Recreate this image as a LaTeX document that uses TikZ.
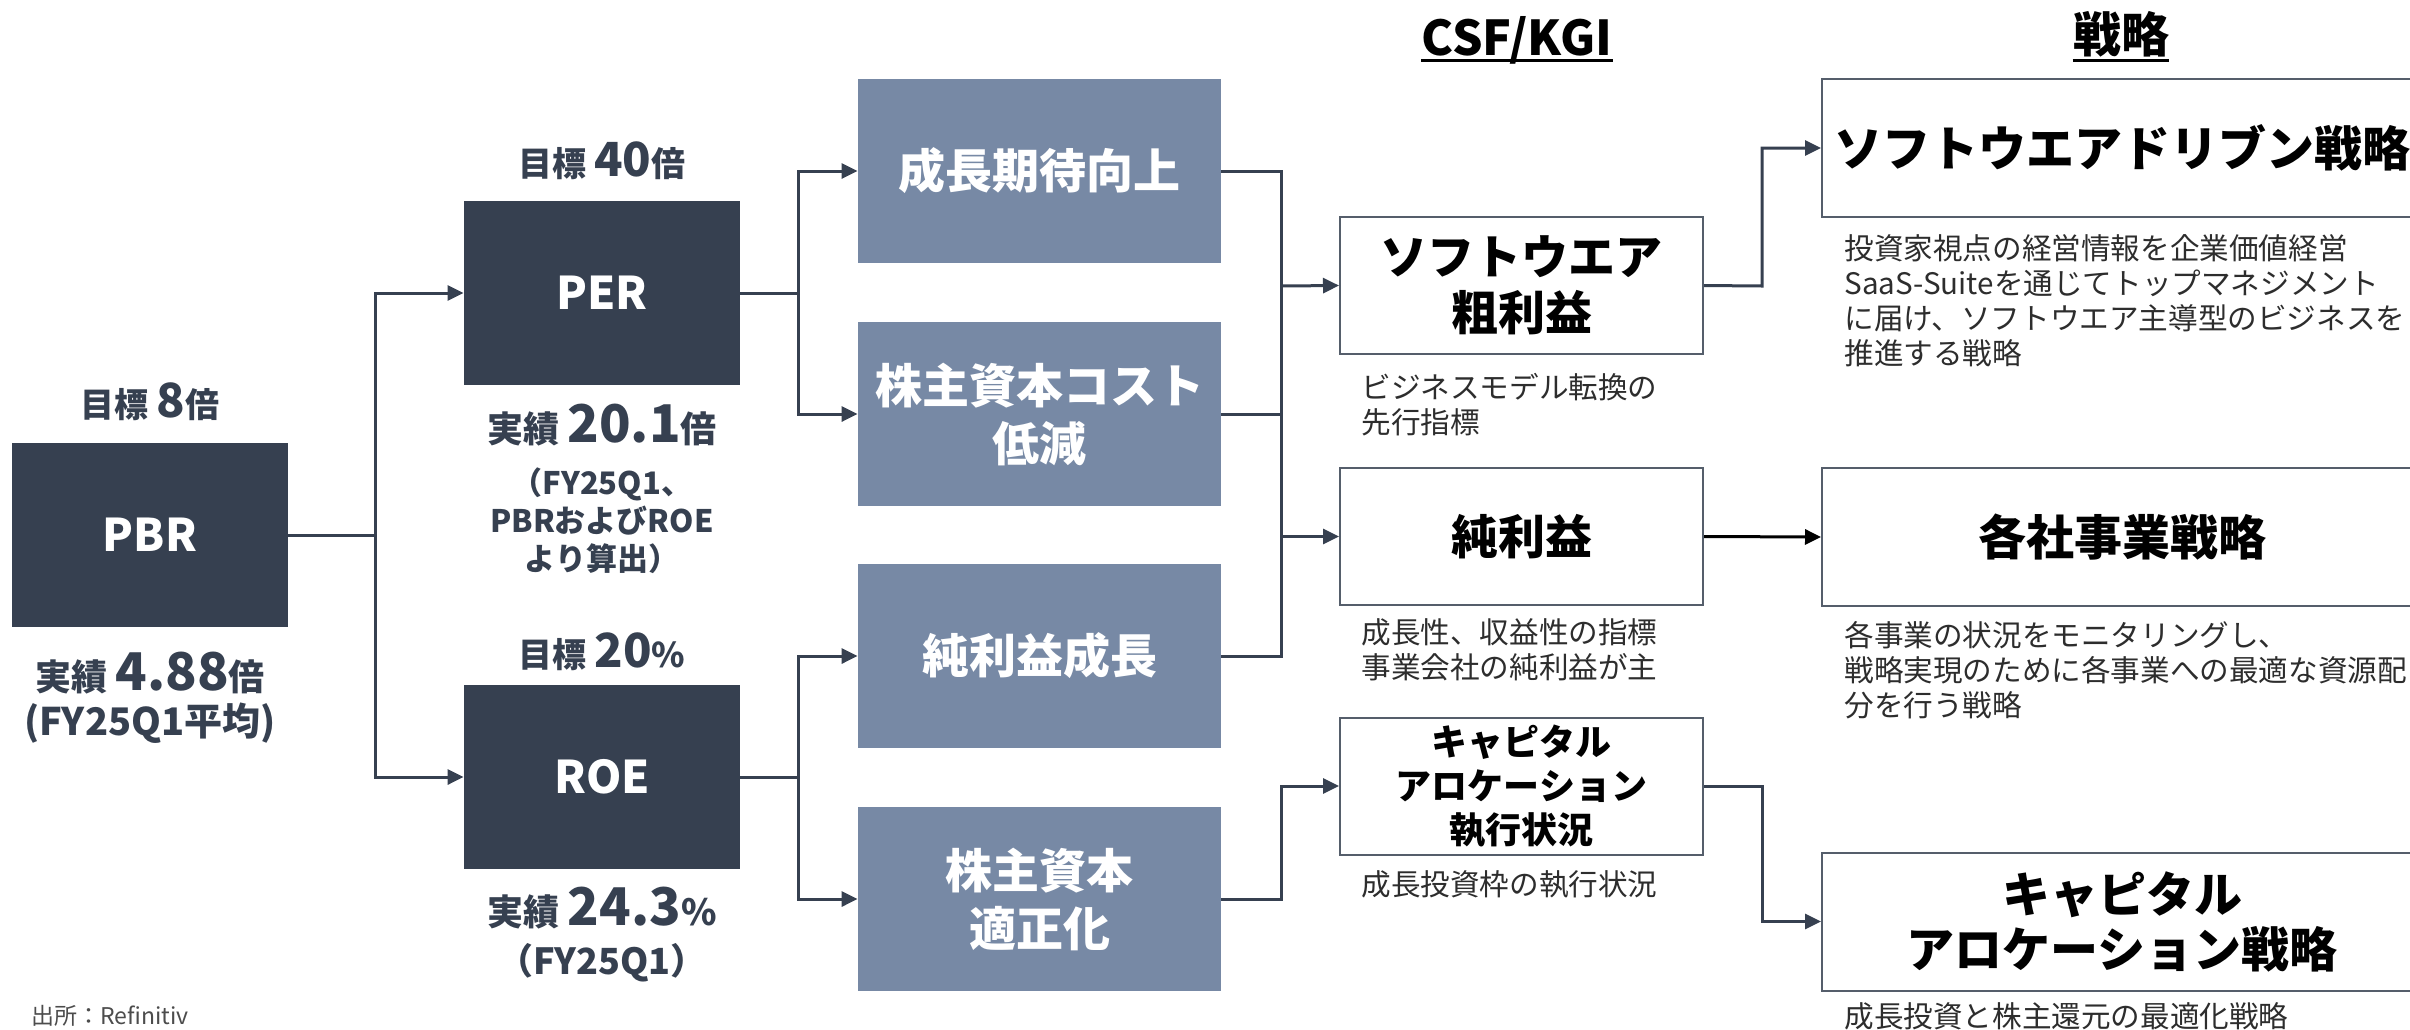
\documentclass[tikz,border=0pt]{standalone}
\usepackage{fontspec}
\setmainfont{Noto Sans CJK JP}
\usetikzlibrary{arrows.meta,calc}
\definecolor{darkc}{RGB}{54,64,80}
\definecolor{grayc}{RGB}{119,137,165}
\definecolor{bordc}{RGB}{85,94,107}
\definecolor{capc}{RGB}{45,45,45}
\newcommand\fsz[2]{\fontsize{#1pt}{#2pt}\selectfont}
\tikzset{
  darkbox/.style={fill=darkc, text=white, minimum width=138pt, minimum height=92pt, inner sep=0pt, font=\fsz{22.5}{27}\bfseries},
  graybox/.style={fill=grayc, text=white, minimum width=181.5pt, minimum height=92pt, inner sep=0pt, align=center, font=\fsz{23.5}{29}\bfseries},
  kgibox/.style={draw=bordc, line width=1pt, fill=white, minimum width=181.5pt, minimum height=68.5pt, inner sep=0pt, align=center, text=black},
  stratbox/.style={draw=bordc, line width=1pt, fill=white, minimum width=300pt, minimum height=69pt, inner sep=0pt, align=center, text=black, font=\fsz{24}{27.5}\bfseries},
  lbl/.style={inner sep=0pt, text=darkc, align=center, font=\bfseries},
  capt/.style={inner sep=0pt, anchor=west, align=left, text=capc, font=\fsz{14.8}{17.5}},
  conn/.style={draw=darkc, line width=1.5pt},
  arr/.style={conn, -{Triangle[length=8pt,width=7.5pt]}},
  hdr/.style={inner sep=0pt, anchor=base, text=black, font=\bfseries}
}
\begin{document}
\begin{tikzpicture}[x=0.5pt,y=-0.5pt]
\useasboundingbox (0,0) rectangle (2410,1029);
\clip (0,0) rectangle (2410,1029);
\fill[white] (0,0) rectangle (2410,1029);

% headers
\node[hdr, font=\fsz{24}{28}\bfseries] (hk) at (1517,55) {CSF/KGI};
\draw[line width=1.5pt] ($(hk.base west)+(0,5)$) -- ($(hk.base east)+(0,5)$);
\node[hdr, font=\fsz{24}{27}\bfseries] (hs) at (2121,52) {戦略};
\draw[line width=1.5pt] ($(hs.base west)+(0,8)$) -- ($(hs.base east)+(0,8)$);

% dark boxes
\node[darkbox] (pbr) at (150,535) {PBR};
\node[darkbox] (per) at (602,293) {PER};
\node[darkbox] (roe) at (602,777) {ROE};

% labels
\node[lbl] (tpbr) at (150,402) {\fsz{17}{20}目標 {\fsz{23.5}{26}8}倍};
\node[lbl] (apbr) at (150,673) {\fsz{18}{22}実績 {\fsz{26}{30}4.88}倍};
\node[lbl] (npbr) at (150,723) {\fsz{19}{22}(FY25Q1平均)};
\node[lbl] (tper) at (602,161) {\fsz{17}{20}目標 {\fsz{23.5}{26}40}倍};
\node[lbl] (aper) at (602,425) {\fsz{18}{22}実績 {\fsz{26}{30}20.1}倍};
\node[lbl, font=\fsz{15.5}{19}\bfseries] (nper) at (602,521) {（FY25Q1、\\PBRおよびROE\\より算出）};
\node[lbl] (troe) at (602,652) {\fsz{17}{20}目標 {\fsz{23.5}{26}20}\%};
\node[lbl] (aroe) at (602,908) {\fsz{18}{22}実績 {\fsz{26}{30}24.3}\%};
\node[lbl, font=\fsz{18}{21}\bfseries] (nroe) at (602,963) {（FY25Q1）};

% gray boxes
\node[graybox] (g1) at (1039.5,171) {成長期待向上};
\node[graybox] (g2) at (1039.5,414) {株主資本コスト\\低減};
\node[graybox] (g3) at (1039.5,656) {純利益成長};
\node[graybox] (g4) at (1039.5,899) {株主資本\\適正化};

% KGI boxes
\node[kgibox, font=\fsz{23.5}{28}\bfseries] (k1) at (1521.5,285.5) {ソフトウエア\\粗利益};
\node[kgibox, font=\fsz{23.5}{28}\bfseries] (k2) at (1521.5,536.5) {純利益};
\node[kgibox, font=\fsz{18}{22}\bfseries] (k3) at (1521.5,786) {キャピタル\\アロケーション\\執行状況};

% strategy boxes
\node[stratbox] (s1) at (2122,148) {ソフトウエアドリブン戦略};
\node[stratbox] (s2) at (2122,537) {各社事業戦略};
\node[stratbox] (s3) at (2122,921.5) {キャピタル\\アロケーション戦略};

% captions
\node[capt] (c1) at (1361,404.5) {ビジネスモデル転換の\\先行指標};
\node[capt] (c2) at (1361,649.5) {成長性、収益性の指標\\事業会社の純利益が主};
\node[capt] (c3) at (1361,884) {成長投資枠の執行状況};
\node[capt] (c4) at (1844,300.5) {投資家視点の経営情報を企業価値経営\\SaaS-Suiteを通じてトップマネジメント\\に届け、ソフトウエア主導型のビジネスを\\推進する戦略};
\node[capt] (c5) at (1844,670) {各事業の状況をモニタリングし、\\戦略実現のために各事業への最適な資源配\\分を行う戦略};
\node[capt] (c6) at (1844,1016) {成長投資と株主還元の最適化戦略};
\node[inner sep=0pt, anchor=west, text=capc!85, font=\fsz{11.5}{13}] (src) at (31,1016) {出所：Refinitiv};

% junctions
\coordinate (j1) at (375,535);
\coordinate (j2) at (798,293);
\coordinate (j3) at (798,777);
\coordinate (j4) at (1281,286);
\coordinate (j5) at (1762,286);

% connectors
\draw[conn] (pbr.east) -- (j1);
\draw[arr] (j1) |- (per.west);
\draw[arr] (j1) |- (roe.west);
\draw[conn] (per.east) -- (j2);
\draw[arr] (j2) |- (g1.west);
\draw[arr] (j2) |- (g2.west);
\draw[conn] (roe.east) -- (j3);
\draw[arr] (j3) |- (g3.west);
\draw[arr] (j3) |- (g4.west);
\draw[conn] (g1.east) -| (j4) |- (g3.east);
\draw[conn] (g2.east) -- (g2.east -| j4);
\draw[arr] (j4) -- (k1.west);
\draw[arr] (j4 |- k2.west) -- (k2.west);
\draw[arr] (g4.east) -- (g4.east -| j4) |- (k3.west);
\draw[arr] (k1.east) -- (j5) |- (s1.west);
\draw[line width=1.5pt, draw=black, -{Triangle[length=8pt,width=7.5pt]}] (k2.east) -- (s2.west);
\draw[arr] (k3.east) -- (k3.east -| j5) |- (s3.west);
\end{tikzpicture}
\end{document}
